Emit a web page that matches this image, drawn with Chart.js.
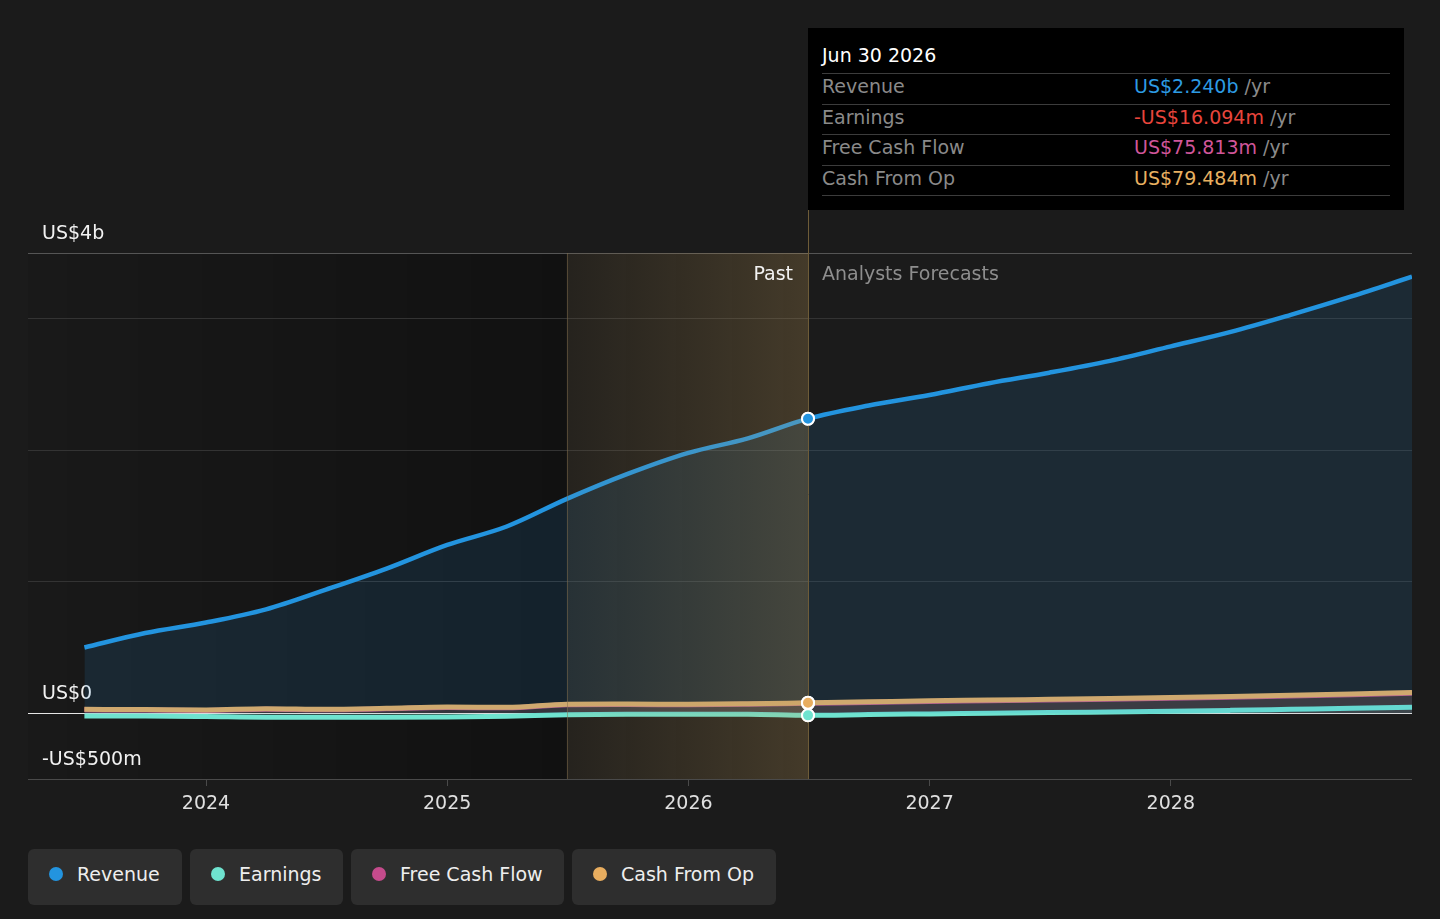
<!DOCTYPE html>
<html>
<head>
<meta charset="utf-8">
<title>Revenue and earnings</title>
<script src="https://cdn.jsdelivr.net/npm/chart.js@4.4.1/dist/chart.umd.min.js"></script>
<style>
  html, body { margin: 0; padding: 0; background: #1b1b1b; width: 1440px; height: 919px; overflow: hidden; font-family: "DejaVu Sans", sans-serif; }
  #wrap { position: relative; width: 1440px; height: 919px; }
  #chart { position: absolute; left: 0; top: 0; }
  #tip { position: absolute; left: 808px; top: 28px; width: 596px; height: 182px; background: #000; }
  #tip .title { position: absolute; left: 14px; top: 14px; font-size: 19px; line-height: 26px; color: #fff; }
  #tip .rows { position: absolute; left: 14px; top: 45px; width: 568px; border-top: 1px solid #3c3c3c; }
  #tip .row { position: relative; height: 29.5px; border-bottom: 1px solid #3c3c3c; font-size: 19px; line-height: 24px; }
  #tip .lbl { position: absolute; left: 0; color: #8a8a8a; }
  #tip .val { position: absolute; left: 312px; }
  #tip .unit { color: #8a8a8a; }
  #legend { position: absolute; left: 28px; top: 849px; display: flex; gap: 8px; }
  .item { height: 56px; background: #2e2e2e; border-radius: 6px; display: flex; align-items: center; padding: 0 0 6px 21px; font-size: 19px; color: #eee; box-sizing: border-box; }
  .dot { width: 14px; height: 14px; border-radius: 50%; margin-right: 14px; }
</style>
</head>
<body>
<div id="wrap">
  <canvas id="chart" width="1440" height="840"></canvas>

  <div id="tip">
    <div class="title">Jun 30 2026</div>
    <div class="rows">
      <div class="row"><span class="lbl">Revenue</span><span class="val"><span style="color:#2d9be3">US$2.240b</span> <span class="unit">/yr</span></span></div>
      <div class="row"><span class="lbl">Earnings</span><span class="val"><span style="color:#e8453c">-US$16.094m</span> <span class="unit">/yr</span></span></div>
      <div class="row"><span class="lbl">Free Cash Flow</span><span class="val"><span style="color:#d0569a">US$75.813m</span> <span class="unit">/yr</span></span></div>
      <div class="row"><span class="lbl">Cash From Op</span><span class="val"><span style="color:#e8b060">US$79.484m</span> <span class="unit">/yr</span></span></div>
    </div>
  </div>

  <div id="legend"></div>
</div>

<script>
// ===== Data (US$ billions) =====
const dates = [
  '2023-06-30', '2023-09-30', '2023-12-31', '2024-03-31', '2024-06-30', '2024-09-30',
  '2024-12-31', '2025-03-31', '2025-06-30', '2025-09-30', '2025-12-31', '2026-03-31',
  '2026-06-30', '2026-09-30', '2026-12-31', '2027-03-31', '2027-06-30', '2027-09-30',
  '2027-12-31', '2028-03-31', '2028-06-30', '2028-09-30', '2028-12-31'
];
const revenue = [
  0.50, 0.61, 0.69, 0.79, 0.94, 1.10, 1.28, 1.42, 1.63, 1.82, 1.98, 2.09,
  2.24, 2.34, 2.42, 2.51, 2.59, 2.68, 2.79, 2.90, 3.03, 3.17, 3.32
];
const earnings = [
  -0.020, -0.021, -0.025, -0.030, -0.030, -0.030, -0.028, -0.022, -0.012, -0.008, -0.008, -0.008,
  -0.016, -0.010, -0.005, 0.000, 0.005, 0.010, 0.015, 0.022, 0.030, 0.038, 0.046
];
const freeCashFlow = [
  0.026, 0.024, 0.021, 0.031, 0.026, 0.034, 0.044, 0.041, 0.064, 0.066, 0.064, 0.068,
  0.0758, 0.082, 0.090, 0.095, 0.101, 0.107, 0.114, 0.122, 0.131, 0.141, 0.152
];
const cashFromOp = [
  0.030, 0.028, 0.025, 0.035, 0.030, 0.038, 0.048, 0.045, 0.068, 0.070, 0.068, 0.072,
  0.0795, 0.087, 0.095, 0.100, 0.106, 0.112, 0.119, 0.127, 0.136, 0.146, 0.157
];

const yearTicks = [2024, 2025, 2026, 2027, 2028];
const yTickValues = [-0.5, 0, 1, 2, 3, 3.5];
const yTickLabels = ['-US$500m', 'US$0', '', '', '', 'US$4b'];

const pastStart = '2025-06-30';
const pastEnd = '2026-06-30';
const xMin = 2023.262;
const xMax = 2029;

const COLORS = {
  revenue: '#2394df',
  earnings: '#6fe3cf',
  fcf: '#c54b8c',
  cfo: '#e8ad5f'
};

// ===== Helpers =====
function toYear(s) {
  const d = Date.parse(s + 'T00:00:00Z');
  const y = new Date(d).getUTCFullYear();
  const start = Date.UTC(y, 0, 1);
  const end = Date.UTC(y + 1, 0, 1);
  return y + (d - start + 86400000) / (end - start);
}

function points(values) {
  return values.map((v, i) => ({ x: toYear(dates[i]), y: v }));
}

function hexA(hex, a) {
  const n = parseInt(hex.slice(1), 16);
  return `rgba(${n >> 16}, ${(n >> 8) & 255}, ${n & 255}, ${a})`;
}

const hi = dates.indexOf(pastEnd);

function series(label, values, color, order, fillAlpha, width) {
  return {
    label,
    data: points(values),
    borderColor: color,
    backgroundColor: hexA(color, fillAlpha),
    borderWidth: width,
    fill: 'origin',
    cubicInterpolationMode: 'monotone',
    order,
    pointRadius: ctx => (ctx.dataIndex === hi ? 6 : 0),
    pointBackgroundColor: color,
    pointBorderColor: '#ffffff',
    pointBorderWidth: 2
  };
}

// ===== Plugins =====
const shadePlugin = {
  id: 'shade',
  beforeDraw(chart) {
    const { ctx, chartArea: a, scales: { x } } = chart;
    const p0 = x.getPixelForValue(toYear(pastStart));
    const g = ctx.createLinearGradient(a.left, 0, p0, 0);
    g.addColorStop(0, 'rgba(0,0,0,0.05)');
    g.addColorStop(1, 'rgba(0,0,0,0.35)');
    ctx.save();
    ctx.fillStyle = g;
    ctx.fillRect(a.left, a.top, p0 - a.left, a.bottom - a.top);
    ctx.restore();
  },
  afterDatasetsDraw(chart) {
    const { ctx, chartArea: a, scales: { x } } = chart;
    const p0 = x.getPixelForValue(toYear(pastStart));
    const p1 = x.getPixelForValue(toYear(pastEnd));
    ctx.save();
    const g = ctx.createLinearGradient(p0, 0, p1, 0);
    g.addColorStop(0, 'rgba(190,150,80,0.07)');
    g.addColorStop(1, 'rgba(200,160,90,0.24)');
    ctx.fillStyle = g;
    ctx.fillRect(p0, a.top, p1 - p0, a.bottom - a.top);

    ctx.lineWidth = 1;
    ctx.strokeStyle = 'rgba(130,110,75,0.5)';
    ctx.beginPath();
    ctx.moveTo(Math.round(p0) + 0.5, a.top);
    ctx.lineTo(Math.round(p0) + 0.5, a.bottom);
    ctx.stroke();
    ctx.strokeStyle = '#6e5c38';
    ctx.beginPath();
    ctx.moveTo(Math.round(p1) + 0.5, 210);
    ctx.lineTo(Math.round(p1) + 0.5, a.bottom);
    ctx.stroke();

    // redraw the highlighted points above the overlay
    const metas = chart.getSortedVisibleDatasetMetas();
    for (let i = metas.length - 1; i >= 0; i--) {
      const el = metas[i].data[hi];
      if (el) el.draw(ctx, a);
    }

    ctx.font = '19px "DejaVu Sans"';
    ctx.textBaseline = 'middle';
    ctx.textAlign = 'right';
    ctx.fillStyle = '#f2f2f2';
    ctx.fillText('Past', p1 - 15, a.top + 22);
    ctx.textAlign = 'left';
    ctx.fillStyle = '#8e8e8e';
    ctx.fillText('Analysts Forecasts', p1 + 14, a.top + 22);
    ctx.restore();
  }
};

// ===== Chart =====
Chart.defaults.font.family = '"DejaVu Sans", sans-serif';
Chart.defaults.font.size = 19;

new Chart(document.getElementById('chart'), {
  type: 'line',
  data: {
    datasets: [
      series('Revenue', revenue, COLORS.revenue, 0, 0.13, 4.5),
      series('Earnings', earnings, COLORS.earnings, 1, 0.08, 5),
      series('Cash From Op', cashFromOp, COLORS.cfo, 2, 0.10, 5),
      series('Free Cash Flow', freeCashFlow, COLORS.fcf, 3, 0.10, 5)
    ]
  },
  options: {
    responsive: false,
    animation: false,
    events: [],
    layout: { padding: { left: 28, right: 28, top: 253, bottom: 0 } },
    plugins: { legend: { display: false }, tooltip: { enabled: false } },
    scales: {
      x: {
        type: 'linear',
        min: xMin,
        max: xMax,
        afterBuildTicks: s => { s.ticks = yearTicks.map(v => ({ value: v })); },
        afterFit: s => { s.height = 61; },
        grid: { display: true, drawOnChartArea: false, drawTicks: true, tickLength: 7, color: '#4a4a4a' },
        border: { display: false },
        ticks: { color: '#e0e0e0', padding: 7, maxRotation: 0, autoSkip: false, callback: v => String(v) }
      },
      y: {
        type: 'linear',
        min: -0.5,
        max: 3.5,
        afterBuildTicks: s => { s.ticks = yTickValues.map(v => ({ value: v })); },
        afterFit: s => { s.width = 0; },
        border: { display: false },
        grid: {
          drawTicks: false,
          lineWidth: 1,
          color: ctx => {
            const v = ctx.tick.value;
            if (v === 0) return '#e6e6e6';
            if (v === 3.5) return '#555555';
            if (v === -0.5) return '#4a4a4a';
            return '#333333';
          }
        },
        ticks: {
          mirror: true,
          padding: 14,
          labelOffset: -19,
          autoSkip: false,
          color: '#f2f2f2',
          callback: v => yTickLabels[yTickValues.indexOf(v)] || ''
        }
      }
    }
  },
  plugins: [shadePlugin]
});

// ===== Legend =====
const legendItems = [
  ['Revenue', COLORS.revenue, 154],
  ['Earnings', COLORS.earnings, 153],
  ['Free Cash Flow', COLORS.fcf, 213],
  ['Cash From Op', COLORS.cfo, 204]
];
const legend = document.getElementById('legend');
legendItems.forEach(([name, color, w]) => {
  const div = document.createElement('div');
  div.className = 'item';
  div.style.width = w + 'px';
  div.innerHTML = `<span class="dot" style="background:${color}"></span>${name}`;
  legend.appendChild(div);
});
</script>
</body>
</html>
